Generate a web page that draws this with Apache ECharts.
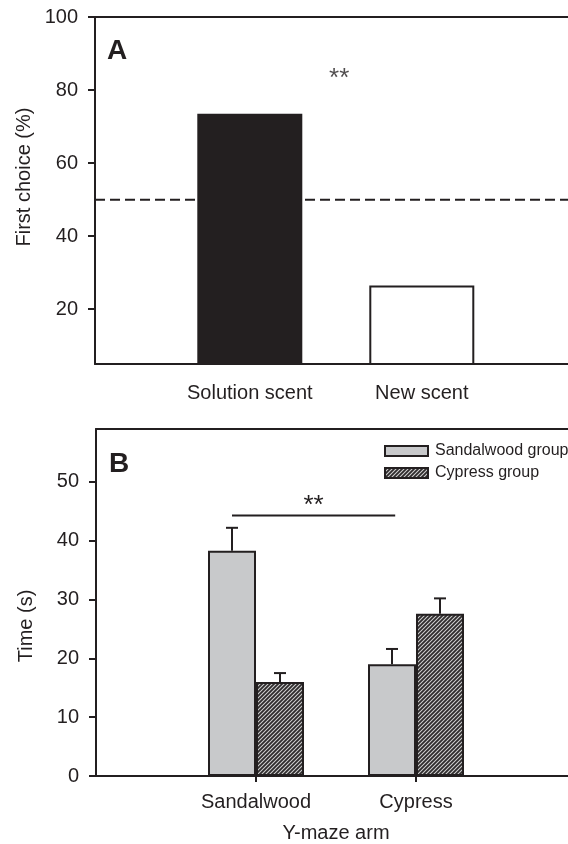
<!DOCTYPE html>
<html>
<head>
<meta charset="utf-8">
<script src="https://cdn.jsdelivr.net/npm/echarts@6/dist/echarts.min.js"></script>
<style>
  html, body { margin: 0; padding: 0; background: #fff; }
  #chart { width: 568px; height: 844px; }
</style>
</head>
<body>
<div id="chart"></div>
<script>
// Panel A: first choice of arm
const aCategories = ['Solution scent', 'New scent'];
const aFirstChoice = [73.5, 26.5];
const aChanceLevel = 50;
const aTicks = [20, 40, 60, 80, 100];
const aStarPos = [1.52, 83];

// Panel B: time spent per Y-maze arm
const bArms = ['Sandalwood', 'Cypress'];
const bSandalwoodGroup = [38.3, 19.0];
const bSandalwoodErr = [3.9, 2.6];
const bCypressGroup = [16.0, 27.6];
const bCypressErr = [1.5, 2.6];
const bTicks = [0, 10, 20, 30, 40, 50];
const bSigLine = [[0.85, 44.3], [1.87, 44.3]];

const INK = '#231f20';
const FONT = "'Liberation Sans', Arial, Helvetica, sans-serif";

// diagonal hatch fill
function hatch() {
  const c = document.createElement('canvas');
  c.width = 4; c.height = 4;
  const g = c.getContext('2d');
  g.fillStyle = '#2e2b2c';
  g.fillRect(0, 0, 4, 4);
  g.strokeStyle = '#cfcfcf';
  g.lineWidth = 1.05;
  g.beginPath();
  g.moveTo(-1, 5); g.lineTo(5, -1);
  g.moveTo(-1, 1); g.lineTo(1, -1);
  g.moveTo(3, 5); g.lineTo(5, 3);
  g.stroke();
  return { image: c, repeat: 'repeat' };
}
const HATCH = hatch();

const chart = echarts.init(document.getElementById('chart'), null, { renderer: 'canvas' });

function errorBars(offset) {
  return function (params, api) {
    const x = api.value(0), m = api.value(1), e = api.value(2);
    const p0 = api.coord([x, m]);
    const p1 = api.coord([x, m + e]);
    const cx = p0[0] + offset;
    const st = { stroke: INK, lineWidth: 2 };
    return {
      type: 'group',
      children: [
        { type: 'line', shape: { x1: cx, y1: p0[1], x2: cx, y2: p1[1] }, style: st },
        { type: 'line', shape: { x1: cx - 6, y1: p1[1], x2: cx + 6, y2: p1[1] }, style: st }
      ]
    };
  };
}

const axisLine = { show: true, lineStyle: { color: INK, width: 2 } };
const labelStyle = { color: INK, fontSize: 20, fontFamily: FONT };

const option = {
  animation: false,
  textStyle: { fontFamily: FONT, color: INK },
  grid: [
    { left: 95, top: 17, width: 481.6, height: 347, outerBoundsMode: 'none', containLabel: false },
    { left: 96, top: 429, width: 480, height: 347, outerBoundsMode: 'none', containLabel: false }
  ],
  xAxis: [
    {
      gridIndex: 0, type: 'value', min: 0.1, max: 2.9, position: 'bottom',
      axisLine: axisLine, splitLine: { show: false },
      axisTick: { show: false },
      axisLabel: Object.assign({ margin: 19, customValues: [1, 2], formatter: v => aCategories[Math.round(v) - 1] }, labelStyle)
    },
    {
      gridIndex: 0, type: 'value', min: 0.1, max: 2.9, position: 'top',
      axisLine: axisLine, splitLine: { show: false }, axisTick: { show: false }, axisLabel: { show: false }
    },
    {
      gridIndex: 1, type: 'value', min: 0, max: 3, position: 'bottom',
      axisLine: axisLine, splitLine: { show: false },
      axisTick: { show: true, customValues: [1, 2], length: 6, lineStyle: { color: INK, width: 2 } },
      axisLabel: Object.assign({ margin: 16, customValues: [1, 2], formatter: v => bArms[Math.round(v) - 1] }, labelStyle),
      name: 'Y-maze arm', nameLocation: 'middle', nameGap: 47,
      nameTextStyle: Object.assign({}, labelStyle)
    },
    {
      gridIndex: 1, type: 'value', min: 0, max: 3, position: 'top',
      axisLine: axisLine, splitLine: { show: false }, axisTick: { show: false }, axisLabel: { show: false }
    }
  ],
  yAxis: [
    {
      gridIndex: 0, type: 'value', min: 5, max: 100,
      axisLine: axisLine, splitLine: { show: false },
      axisTick: { show: true, customValues: aTicks, length: 7, lineStyle: { color: INK, width: 2 } },
      axisLabel: Object.assign({ margin: 17, customValues: aTicks }, labelStyle)
    },
    {
      gridIndex: 1, type: 'value', min: 0, max: 59,
      axisLine: axisLine, splitLine: { show: false },
      axisTick: { show: true, customValues: bTicks, length: 7, lineStyle: { color: INK, width: 2 } },
      axisLabel: Object.assign({ margin: 17, customValues: bTicks }, labelStyle)
    }
  ],
  legend: {
    orient: 'vertical', left: 379, top: 438,
    icon: 'rect',
    itemWidth: 43, itemHeight: 10, itemGap: 6,
    data: ['Sandalwood group', 'Cypress group'],
    textStyle: { color: INK, fontSize: 16, fontFamily: FONT, padding: [0, 0, 0, 2] },
    selectedMode: false
  },
  graphic: [
    { type: 'text', left: 107, top: 37, style: { text: 'A', font: 'bold 28px ' + FONT, fill: INK } },
    { type: 'text', left: 109, top: 450, style: { text: 'B', font: 'bold 28px ' + FONT, fill: INK } },
    { type: 'text', x: 24, y: 177, rotation: Math.PI / 2,
      style: { text: 'First choice (%)', font: '20px ' + FONT, fill: INK, align: 'center', verticalAlign: 'middle' } },
    { type: 'text', x: 26, y: 626, rotation: Math.PI / 2,
      style: { text: 'Time (s)', font: '20px ' + FONT, fill: INK, align: 'center', verticalAlign: 'middle' } }
  ],
  series: [
    {
      name: 'Chance', type: 'line', xAxisIndex: 0, yAxisIndex: 0, z: 1,
      data: [[0.1, aChanceLevel], [2.9, aChanceLevel]],
      symbol: 'none', silent: true,
      lineStyle: { color: INK, width: 2, type: [10, 5] }
    },
    {
      name: 'First choice', type: 'bar', xAxisIndex: 0, yAxisIndex: 0, z: 3,
      barWidth: 105,
      data: aFirstChoice.map((v, i) => ({
        value: [i + 1, v],
        itemStyle: i === 0
          ? { color: INK, borderColor: INK, borderWidth: 0 }
          : { color: '#ffffff', borderColor: INK, borderWidth: 2 }
      }))
    },
    {
      name: 'Star A', type: 'scatter', xAxisIndex: 0, yAxisIndex: 0, symbolSize: 0, silent: true,
      data: [aStarPos],
      label: { show: true, position: 'inside', formatter: '**', fontSize: 26, color: INK, fontFamily: FONT }
    },
    {
      name: 'Sandalwood group', type: 'bar', xAxisIndex: 2, yAxisIndex: 1,
      barWidth: 48, barGap: '0%',
      itemStyle: { color: '#c8c9cb', borderColor: INK, borderWidth: 2 },
      data: bSandalwoodGroup.map((v, i) => [i + 1, v])
    },
    {
      name: 'Cypress group', type: 'bar', xAxisIndex: 2, yAxisIndex: 1,
      barWidth: 48, barGap: '0%',
      itemStyle: { color: HATCH, borderColor: INK, borderWidth: 2 },
      data: bCypressGroup.map((v, i) => [i + 1, v])
    },
    {
      name: 'Sandalwood err', type: 'custom', xAxisIndex: 2, yAxisIndex: 1, z: 4,
      renderItem: errorBars(-24), silent: true,
      data: bSandalwoodGroup.map((v, i) => [i + 1, v, bSandalwoodErr[i]])
    },
    {
      name: 'Cypress err', type: 'custom', xAxisIndex: 2, yAxisIndex: 1, z: 4,
      renderItem: errorBars(24), silent: true,
      data: bCypressGroup.map((v, i) => [i + 1, v, bCypressErr[i]])
    },
    {
      name: 'Significance', type: 'line', xAxisIndex: 2, yAxisIndex: 1,
      data: bSigLine, symbol: 'none', silent: true,
      lineStyle: { color: INK, width: 2 },
      markPoint: {
        symbol: 'circle', symbolSize: 0,
        data: [{ coord: [(bSigLine[0][0] + bSigLine[1][0]) / 2, bSigLine[0][1]] }],
        label: { show: true, position: 'top', distance: -3, formatter: '**', fontSize: 26, color: INK, fontFamily: FONT }
      }
    }
  ]
};

chart.setOption(option);
</script>
</body>
</html>
